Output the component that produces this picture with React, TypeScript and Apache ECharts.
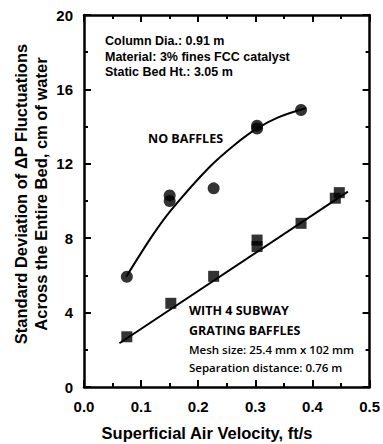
import React, { useEffect, useRef } from "react";
import * as echarts from "echarts";

// Measured standard deviation of ΔP fluctuations (cm of water) vs. superficial air velocity (ft/s)
const noBaffleVelocity = [0.075, 0.15, 0.15, 0.227, 0.303, 0.303, 0.38];
const noBaffleStdDev = [5.93, 10.3, 10.0, 10.68, 13.9, 14.05, 14.89];

const baffleVelocity = [0.075, 0.152, 0.227, 0.303, 0.303, 0.38, 0.44, 0.447];
const baffleStdDev = [2.7, 4.5, 5.95, 7.9, 7.55, 8.8, 10.15, 10.45];

// Trend curves drawn through the data
const noBaffleTrendX = [0.074, 0.12, 0.155, 0.219, 0.265, 0.303, 0.34, 0.389];
const noBaffleTrendY = [5.93, 8.15, 9.6, 11.8, 13.05, 13.9, 14.5, 15.0];

const baffleTrendX = [0.062, 0.462];
const baffleTrendY = [2.35, 10.5];

const xTicks = { min: 0, max: 0.5, step: 0.1 };
const yTicks = { min: 0, max: 20, step: 4 };

const sansBold = "'Liberation Sans', 'DejaVu Sans', sans-serif";
const openSans = "'Open Sans', 'Noto Sans', sans-serif";

const zip = (xs: number[], ys: number[]) => xs.map((x, i) => [x, ys[i]]);

export default function App() {
  const ref = useRef<HTMLDivElement>(null);

  useEffect(() => {
    if (!ref.current) return;
    const chart = echarts.init(ref.current, undefined, { renderer: "svg" });

    const axisLine = { show: true, onZero: false, lineStyle: { color: "#000", width: 2.5 } };
    const axisTick = { show: true, inside: true, length: 7, lineStyle: { color: "#000", width: 2 } };
    const minorTick = { show: true, splitNumber: 2, length: 4, lineStyle: { color: "#000", width: 2 } };
    const tickLabel = { color: "#000", fontWeight: "bold" as const, fontSize: 15, fontFamily: sansBold };

    const xBase = {
      type: "value" as const,
      min: xTicks.min,
      max: xTicks.max,
      interval: xTicks.step,
      axisLine,
      axisTick,
      minorTick,
      splitLine: { show: false },
    };
    const yBase = {
      type: "value" as const,
      min: yTicks.min,
      max: yTicks.max,
      interval: yTicks.step,
      axisLine,
      axisTick,
      minorTick,
      splitLine: { show: false },
    };

    const note = (
      x: number,
      y: number,
      text: string,
      family: string,
      size: number,
      weight: string | number = "bold",
      align: "left" | "center" = "left",
      rotation = 0
    ) => ({
      type: "text" as const,
      x,
      y,
      rotation,
      style: {
        text,
        fill: "#000",
        fontFamily: family,
        fontSize: size,
        fontWeight: weight,
        textAlign: align,
        textVerticalAlign: "middle" as const,
      },
    });

    chart.setOption({
      animation: false,
      backgroundColor: "#fff",
      grid: { left: 84, right: 11, top: 15, bottom: 57, containLabel: false },
      xAxis: [
        {
          ...xBase,
          position: "bottom",
          axisLabel: { ...tickLabel, margin: 12, formatter: (v: number) => v.toFixed(1) },
        },
        { ...xBase, position: "top", axisLabel: { show: false } },
      ],
      yAxis: [
        {
          ...yBase,
          position: "left",
          axisLabel: { ...tickLabel, margin: 11 },
        },
        { ...yBase, position: "right", axisLabel: { show: false } },
      ],
      series: [
        {
          type: "line",
          data: zip(noBaffleTrendX, noBaffleTrendY),
          smooth: 0.3,
          showSymbol: false,
          lineStyle: { color: "#000", width: 2 },
          z: 2,
        },
        {
          type: "line",
          data: zip(baffleTrendX, baffleTrendY),
          smooth: false,
          showSymbol: false,
          lineStyle: { color: "#000", width: 2 },
          z: 2,
        },
        {
          type: "scatter",
          data: zip(noBaffleVelocity, noBaffleStdDev),
          symbol: "circle",
          symbolSize: 12,
          itemStyle: { color: "#000" },
          z: 3,
        },
        {
          type: "scatter",
          data: zip(baffleVelocity, baffleStdDev),
          symbol: "rect",
          symbolSize: 11,
          itemStyle: { color: "#000" },
          z: 3,
        },
      ],
      graphic: [
        note(105, 41, "Column Dia.: 0.91 m", sansBold, 12.5),
        note(105, 56.5, "Material: 3% fines FCC catalyst", sansBold, 12.5),
        note(105, 72, "Static Bed Ht.: 3.05 m", sansBold, 12.5),
        note(148, 138, "NO BAFFLES", openSans, 12.5),
        note(189, 310, "WITH 4 SUBWAY", openSans, 12.5),
        note(189, 330, "GRATING BAFFLES", openSans, 12.5),
        note(189, 349, "Mesh size: 25.4 mm x 102 mm", openSans, 11.5, 600),
        note(189, 367, "Separation distance: 0.76 m", openSans, 11.5, 600),
        note(207, 433, "Superficial Air Velocity, ft/s", sansBold, 16.5, "bold", "center"),
        note(21, 194, "Standard Deviation of ΔP Fluctuations", sansBold, 16.5, "bold", "center", Math.PI / 2),
        note(41, 194, "Across the Entire Bed, cm of water", sansBold, 16.5, "bold", "center", Math.PI / 2),
      ],
    });

    return () => chart.dispose();
  }, []);

  return (
    <div
      ref={ref}
      style={{ position: "absolute", left: 0, top: 0, width: 383, height: 444, background: "#fff" }}
    />
  );
}
